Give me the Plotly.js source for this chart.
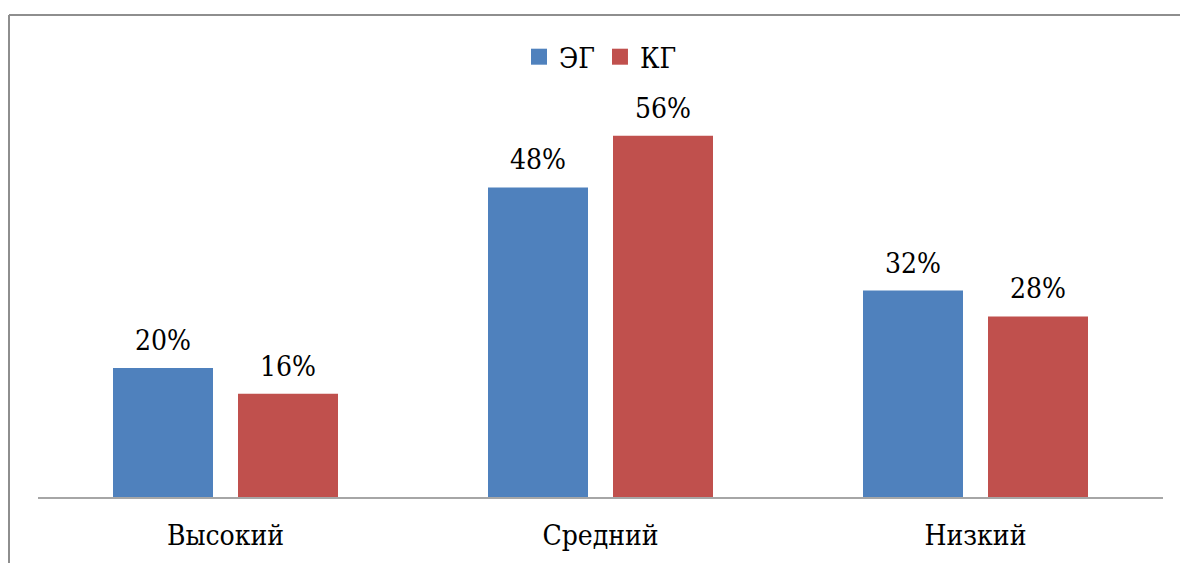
<!DOCTYPE html>
<html>
<head>
<meta charset="utf-8">
<script src="https://cdn.plot.ly/plotly-3.0.1.min.js"></script>
<style>
html,body{margin:0;padding:0;background:#fff;}
#chart{width:1180px;height:563px;}
</style>
</head>
<body>
<div id="chart"></div>
<script>
const categories = ["Высокий", "Средний", "Низкий"];
const seriesNames = ["ЭГ", "КГ"];
const egValues = [0.20, 0.48, 0.32];
const kgValues = [0.16, 0.56, 0.28];
const colors = ["#4F81BD", "#C0504D"];

const W = 1180, H = 563;
const M = {l: 38, r: 17, t: 110, b: 66};
const pw = W - M.l - M.r, ph = H - M.t - M.b;
const FONT = "DejaVu Serif Condensed, DejaVu Serif";
const BARGAP = 1/3, GROUPGAP = 0.2;

function fmt(v){ return Math.round(v*100) + "%"; }

const seriesVals = [egValues, kgValues];
const traces = [];
seriesVals.forEach((vals, i) => {
  traces.push({
    type: "bar",
    name: seriesNames[i],
    x: categories,
    y: vals,
    marker: {color: colors[i]},
    showlegend: false,
    hoverinfo: "none"
  });
});
seriesVals.forEach((vals, i) => {
  traces.push({
    type: "scatter",
    mode: "markers",
    name: seriesNames[i],
    x: [null], y: [null],
    marker: {color: colors[i], symbol: "square", size: 16},
    showlegend: true,
    hoverinfo: "none"
  });
});

const catPx = pw / categories.length;
const slotPx = catPx * (1 - BARGAP) / seriesVals.length;
const annotations = [];
seriesVals.forEach((vals, i) => {
  const shift = (i - (seriesVals.length - 1) / 2) * slotPx;
  vals.forEach((v, j) => {
    annotations.push({
      x: categories[j], y: v, xref: "x", yref: "y",
      text: fmt(v), showarrow: false,
      xanchor: "center", yanchor: "bottom",
      xshift: shift, yshift: 9,
      font: {family: FONT, size: 28, color: "#000"}
    });
  });
});

const px2x = p => (p - M.l) / pw;
const py2y = p => (H - M.b - p) / ph;
const frameColor = "#8E8E8E";
const shapes = [
  {type: "line", xref: "paper", yref: "paper", x0: px2x(9), x1: px2x(1185), y0: py2y(15), y1: py2y(15), line: {color: frameColor, width: 2}},
  {type: "line", xref: "paper", yref: "paper", x0: px2x(9), x1: px2x(9), y0: py2y(15), y1: py2y(570), line: {color: frameColor, width: 2}}
];

const layout = {
  width: W, height: H,
  margin: M,
  paper_bgcolor: "#fff",
  plot_bgcolor: "#fff",
  barmode: "group",
  bargap: BARGAP,
  bargroupgap: GROUPGAP,
  showlegend: true,
  legend: {
    orientation: "h",
    x: 0.5, xanchor: "center",
    y: py2y(57), yanchor: "middle",
    bgcolor: "rgba(0,0,0,0)",
    font: {family: FONT, size: 28, color: "#000"},
    itemwidth: 30,
    traceorder: "normal"
  },
  xaxis: {
    type: "category",
    range: [-0.5, 2.5],
    showline: true, linecolor: "#A6A6A6", linewidth: 2,
    showgrid: false, zeroline: false,
    ticks: "", ticklabelstandoff: 12,
    tickfont: {family: FONT, size: 28, color: "#000"},
    fixedrange: true
  },
  yaxis: {
    range: [0, 0.6],
    visible: false,
    showgrid: false, zeroline: false,
    fixedrange: true
  },
  annotations: annotations,
  shapes: shapes,
  font: {family: FONT}
};

Plotly.newPlot("chart", traces, layout, {displayModeBar: false, staticPlot: true});
</script>
</body>
</html>
